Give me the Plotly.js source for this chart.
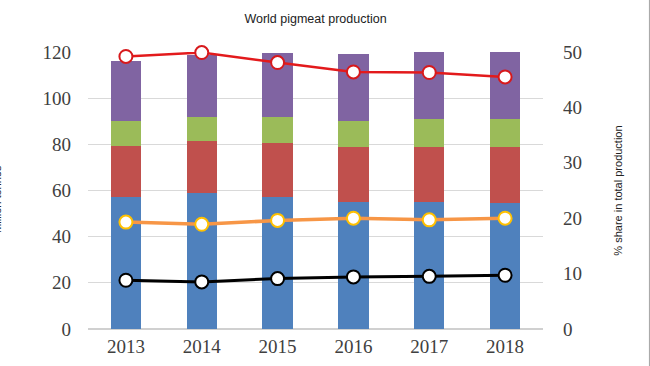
<!DOCTYPE html>
<html><head><meta charset="utf-8">
<script src="https://cdn.plot.ly/plotly-3.0.1.min.js"></script>
<style>html,body{margin:0;padding:0;background:#fff}#chart{width:650px;height:366px}</style>
</head><body><div id="chart"></div>
<script>
const years = ['2013','2014','2015','2016','2017','2018'];
const seg1 = [57.0, 59.1, 57.0, 54.9, 55.0, 54.6];
const seg2 = [22.4, 22.4, 23.6, 24.0, 23.9, 24.3];
const seg3 = [10.9, 10.4, 11.1, 11.4, 12.0, 12.2];
const seg4 = [26.0, 26.8, 28.0, 28.7, 29.0, 29.5];
const shareRed = [49.2, 49.9, 48.1, 46.4, 46.3, 45.5];
const shareOrange = [19.3, 18.9, 19.6, 20.0, 19.7, 20.0];
const shareBlack = [8.8, 8.5, 9.1, 9.4, 9.5, 9.7];
const leftTicks = [0,20,40,60,80,100,120];
const rightTicks = [0,10,20,30,40,50];

const barColors = ['#4F81BD','#C0504D','#9BBB59','#8064A2'];
const segs = [seg1, seg2, seg3, seg4];
const traces = segs.map((s,i)=>({type:'bar', x:years, y:s, marker:{color:barColors[i]}, hoverinfo:'y'}));
function line(vals, lc, mc, lw){
  return {type:'scatter', mode:'lines+markers', x:years, y:vals, yaxis:'y2', cliponaxis:false,
    line:{color:lc, width:lw}, marker:{size:13, color:'#fff', line:{color:mc, width:2}}};
}
traces.push(line(shareRed,'#E31A1C','#D7191C',2.5));
traces.push(line(shareOrange,'#F79646','#FFC000',3.5));
traces.push(line(shareBlack,'#000','#000',3));

const tickFont = {family:'Liberation Serif, Times New Roman, serif', size:19, color:'#404040'};
const layout = {
  width:650, height:366, showlegend:false, barmode:'stack', bargap:0.6,
  paper_bgcolor:'#fff', plot_bgcolor:'#fff',
  margin:{l:88, r:107, t:52, b:37},
  title:{text:'World pigmeat production', x:0.5, xref:'paper', xanchor:'center', y:0.96, yref:'container',
    font:{family:'Liberation Sans, Arial, sans-serif', size:12.5, color:'#222'}},
  xaxis:{type:'category', tickfont:tickFont, showgrid:false, zeroline:false, showline:false, ticks:'', ticklabelstandoff:4},
  yaxis:{range:[0,120], tickvals:leftTicks, tickfont:tickFont, showgrid:true, gridcolor:'#d9d9d9', gridwidth:1.3,
    zeroline:true, zerolinecolor:'#d0d0d0', zerolinewidth:1.5, ticks:'', ticklabelstandoff:16},
  yaxis2:{range:[0,50], tickvals:rightTicks, overlaying:'y', side:'right', tickfont:tickFont, showgrid:false,
    zeroline:false, ticks:'', ticklabelstandoff:19,
    title:{text:'% share in total production', standoff:33, font:{family:'Liberation Sans, Arial, sans-serif', size:11, color:'#222'}}},
  annotations:[{text:'Million tonnes', xref:'paper', yref:'paper', x:-0.2, xanchor:'center', y:0.47, yanchor:'middle', textangle:-90,
    showarrow:false, font:{family:'Liberation Sans, Arial, sans-serif', size:11, color:'#222'}}],
  shapes:[{type:'line', xref:'paper', yref:'paper', x0:1.235, x1:1.235, y0:-0.2, y1:1.3, line:{color:'#aaa', width:2}}]
};
Plotly.newPlot('chart', traces, layout, {staticPlot:true});
</script></body></html>
